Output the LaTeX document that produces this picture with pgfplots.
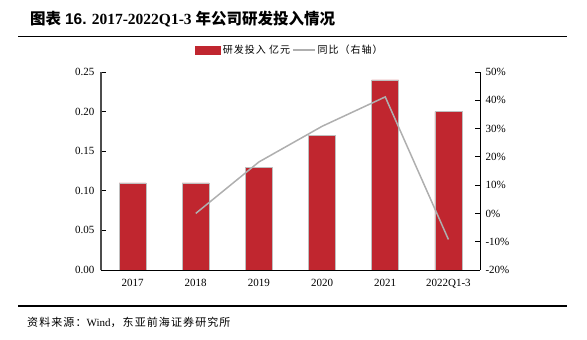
\documentclass[border=0pt]{standalone}
\usepackage{pgfplots}
\pgfplotsset{compat=1.18}
\usepackage{fontspec}
\setmainfont{Liberation Serif}
\newfontfamily\cjk{Noto Sans CJK SC}
\newfontfamily\cjks[LetterSpace=10]{Noto Sans CJK SC}
\newfontfamily\arial{Liberation Sans}
\definecolor{barred}{HTML}{C0262F}
\definecolor{linegray}{HTML}{AFAFAF}
\begin{document}
\begin{tikzpicture}[x=1pt,y=1pt]
\path[use as bounding box] (0,0) rectangle (587,340);
\node[anchor=base west, inner sep=0] at (30,315) {\fontsize{15.5}{16}\selectfont\bfseries{\cjk 图表} {\arial 16.} 2017-2022Q1-3 {\cjk 年公司研发投入情况}};
\draw[line width=1.3] (18,303.5) -- (567,303.5);
\draw[line width=1.3] (18,34) -- (567,34);
\node[anchor=base west, inner sep=0] at (27,13) {\fontsize{11}{12}\selectfont{\cjks 资料来源：}Wind{\cjks ，东亚前海证券研究所}};
\begin{axis}[
  at={(101pt,70pt)}, anchor=south west, scale only axis,
  width=379pt, height=198pt,
  xmin=-0.5, xmax=5.5, ymin=0, ymax=0.25,
  axis y line*=left, axis x line*=bottom,
  y axis line style={draw=black!70, line width=1.4pt},
  x axis line style={draw=black, line width=0.8pt},
  xtick=data, xticklabels={2017,2018,2019,2020,2021,2022Q1-3},
  major x tick style={draw=none},
  ytick={0,0.05,0.10,0.15,0.20,0.25},
  tick align=inside, major tick length=5pt,
  major y tick style={black, line width=0.8pt},
  yticklabel style={/pgf/number format/fixed, /pgf/number format/fixed zerofill, /pgf/number format/precision=2, /pgf/number format/assume math mode=true},
  tick label style={font=\fontsize{11}{12}\selectfont},
  x tick label style={yshift=-6pt},
  y tick label style={xshift=-3pt},
  legend style={at={(0.499,1.111)}, anchor=center, draw=none, fill=none,
    legend columns=2, font=\cjks\fontsize{10}{11}\selectfont,
    /tikz/every even column/.append style={column sep=0pt}},
  legend cell align=left,
]
\addplot[ybar, bar width=27pt, fill=barred, draw=black!25, line width=0.5pt,
  legend image code/.code={\fill[barred] (0pt,-4pt) rectangle (25pt,4pt);}]
  coordinates {(0,0.11) (1,0.11) (2,0.13) (3,0.17) (4,0.24) (5,0.20)};
\addlegendentry{研发投入 亿元}
\addlegendimage{linegray, line width=1.5pt, legend image code/.code={\draw[linegray, line width=1.5pt] (0pt,0pt) -- (22pt,0pt);}}
\addlegendentry{同比（右轴）}
\end{axis}
\begin{axis}[
  at={(101pt,70pt)}, anchor=south west, scale only axis,
  width=379pt, height=198pt,
  xmin=-0.5, xmax=5.5, ymin=-20, ymax=50,
  axis y line*=right, axis x line=none,
  y axis line style={draw=black, line width=0.8pt},
  ytick={-20,-10,0,10,20,30,40,50},
  tick align=inside, major tick length=5pt,
  major y tick style={black, line width=0.8pt},
  yticklabel={\pgfmathprintnumber[assume math mode=true]{\tick}\%},
  tick label style={font=\fontsize{11}{12}\selectfont},
  y tick label style={xshift=2pt},
]
\addplot[linegray, line width=1.5pt] coordinates {(1,0) (2,18.2) (3,30.8) (4,41.2) (5,-9.2)};
\end{axis}
\end{tikzpicture}
\end{document}
